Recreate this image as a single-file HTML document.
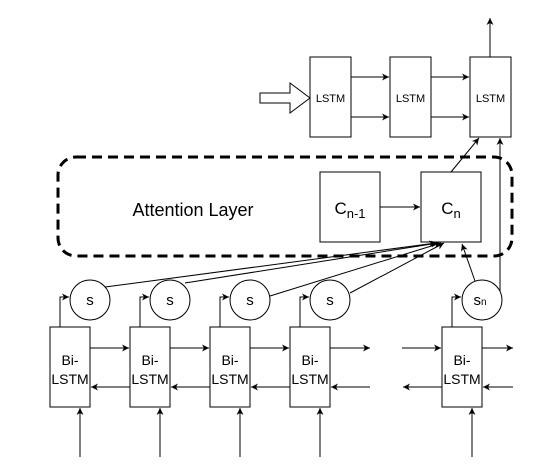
<!DOCTYPE html>
<html><head><style>body{margin:0;background:#fff}svg{display:block}</style></head><body>
<svg width="551" height="476" viewBox="0 0 551 476" xmlns="http://www.w3.org/2000/svg" font-family="Liberation Sans, sans-serif">
<defs><marker id="a" markerWidth="8" markerHeight="8" refX="7" refY="4" orient="auto" markerUnits="userSpaceOnUse"><path d="M0,0.5 L7,4 L0,7.5 L2,4 z" fill="#000"/></marker></defs>
<g stroke="#000" stroke-width="1" fill="none">
<rect x="58" y="157" width="454" height="99" rx="18" stroke-width="3" stroke-dasharray="10,6"/>
<rect x="310" y="57" width="41" height="80" fill="#fff"/>
<rect x="390" y="57" width="41" height="80" fill="#fff"/>
<rect x="470" y="57" width="41" height="80" fill="#fff"/>
<path d="M260,93 H290 V83 L310,98 L290,113 V103 H260 Z" fill="#fff"/>
<line x1="351" y1="77" x2="389" y2="77" marker-end="url(#a)"/>
<line x1="351" y1="117" x2="389" y2="117" marker-end="url(#a)"/>
<line x1="431" y1="77" x2="469" y2="77" marker-end="url(#a)"/>
<line x1="431" y1="117" x2="469" y2="117" marker-end="url(#a)"/>
<line x1="490" y1="57" x2="490" y2="18" marker-end="url(#a)"/>
<rect x="320" y="172" width="60" height="70" fill="#fff"/>
<rect x="421" y="172" width="60" height="70" fill="#fff"/>
<line x1="380" y1="207" x2="420" y2="207" marker-end="url(#a)"/>
<line x1="451" y1="172" x2="479" y2="138" marker-end="url(#a)"/>
<path d="M500,300 V138" marker-end="url(#a)"/>
<line x1="105" y1="287" x2="436" y2="243" marker-end="url(#a)"/>
<line x1="185" y1="283" x2="438" y2="243" marker-end="url(#a)"/>
<line x1="270" y1="296" x2="441" y2="243" marker-end="url(#a)"/>
<line x1="350" y1="293" x2="444" y2="243" marker-end="url(#a)"/>
<line x1="475" y1="281" x2="462" y2="244" marker-end="url(#a)"/>
<g id="b">
<circle cx="90" cy="300" r="20" fill="#fff"/>
<rect x="50" y="327" width="40" height="80" fill="#fff"/>
<path d="M60,327 V297 H69" marker-end="url(#a)"/>
<line x1="80" y1="457" x2="80" y2="408" marker-end="url(#a)"/>
</g>
<use href="#b" x="80"/><use href="#b" x="160"/><use href="#b" x="240"/><use href="#b" x="392"/>
<line x1="90" y1="348" x2="129" y2="348" marker-end="url(#a)"/>
<line x1="170" y1="348" x2="209" y2="348" marker-end="url(#a)"/>
<line x1="250" y1="348" x2="289" y2="348" marker-end="url(#a)"/>
<line x1="330" y1="348" x2="370" y2="348" marker-end="url(#a)"/>
<line x1="130" y1="387" x2="91" y2="387" marker-end="url(#a)"/>
<line x1="210" y1="387" x2="171" y2="387" marker-end="url(#a)"/>
<line x1="290" y1="387" x2="251" y2="387" marker-end="url(#a)"/>
<line x1="370" y1="387" x2="331" y2="387" marker-end="url(#a)"/>
<line x1="402" y1="348" x2="441" y2="348" marker-end="url(#a)"/>
<line x1="442" y1="387" x2="403" y2="387" marker-end="url(#a)"/>
<line x1="482" y1="348" x2="513" y2="348" marker-end="url(#a)"/>
<line x1="513" y1="387" x2="483" y2="387" marker-end="url(#a)"/>
</g>
<g font-size="11" text-anchor="middle" fill="#000">
<text x="330.5" y="102">LSTM</text><text x="410.5" y="102">LSTM</text><text x="490.5" y="102">LSTM</text>
</g>
<text x="193" y="216" font-size="18" text-anchor="middle">Attention Layer</text>
<text x="350" y="214" font-size="17" text-anchor="middle">C<tspan font-size="13" dy="4">n-1</tspan></text>
<text x="451" y="214" font-size="17" text-anchor="middle">C<tspan font-size="13" dy="4">n</tspan></text>
<g font-size="15" text-anchor="middle">
<text x="90" y="305">s</text><text x="170" y="305">s</text><text x="250" y="305">s</text><text x="330" y="305">s</text>
<text x="480" y="305">s<tspan font-size="10">n</tspan></text>
<g font-size="14">
<text x="70" y="365">Bi-</text><text x="70" y="384">LSTM</text>
<text x="150" y="365">Bi-</text><text x="150" y="384">LSTM</text>
<text x="230" y="365">Bi-</text><text x="230" y="384">LSTM</text>
<text x="310" y="365">Bi-</text><text x="310" y="384">LSTM</text>
<text x="462" y="365">Bi-</text><text x="462" y="384">LSTM</text>
</g></g>
</svg>
</body></html>
